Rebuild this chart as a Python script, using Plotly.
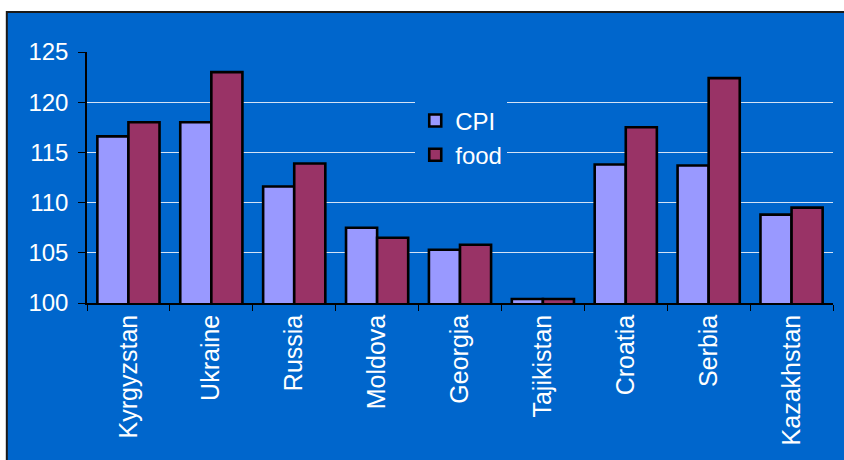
import plotly.graph_objects as go

countries = ["Kyrgyzstan", "Ukraine", "Russia", "Moldova", "Georgia",
             "Tajikistan", "Croatia", "Serbia", "Kazakhstan"]
cpi = [116.6, 118.0, 111.6, 107.5, 105.3, 100.4, 113.8, 113.7, 108.8]
food = [118.0, 123.0, 113.9, 106.5, 105.8, 100.4, 117.5, 122.4, 109.5]
y_ticks = [100, 105, 110, 115, 120, 125]

PANEL = "#0066CC"
FONT = "Liberation Sans, Arial, sans-serif"

fig = go.Figure()
fig.add_trace(go.Bar(name="CPI", x=countries, y=cpi, base=0,
                     marker=dict(color="#9999FF", line=dict(color="black", width=2.6))))
fig.add_trace(go.Bar(name="food", x=countries, y=food, base=0,
                     marker=dict(color="#993366", line=dict(color="black", width=2.6))))

# blue chart panel behind everything, with a dark frame on the left and top
fig.add_shape(type="rect", xref="paper", yref="paper",
              x0=-0.1075, x1=1.03, y0=-0.7, y1=1.159,
              fillcolor=PANEL, line=dict(color="#1a1a1a", width=2), layer="below")

fig.update_layout(
    width=844, height=460,
    margin=dict(l=87, r=11, t=52, b=157),
    paper_bgcolor="white",
    plot_bgcolor=PANEL,
    barmode="group",
    bargap=0.25,
    bargroupgap=0,
    font=dict(family=FONT, color="white", size=24),
    legend=dict(x=0.44, y=0.815, xanchor="left", yanchor="top",
                bgcolor=PANEL, font=dict(size=24, color="white"),
                itemwidth=30, tracegroupgap=0),
    showlegend=True,
)
fig.update_xaxes(showline=True, linecolor="black", linewidth=1.5,
                 ticks="outside", tickson="boundaries", ticklen=6, tickcolor="black",
                 tickangle=-90, tickfont=dict(size=25, color="white", family=FONT),
                 showgrid=False, mirror=False)
fig.update_yaxes(range=[100, 125], tickvals=y_ticks, showline=True, linecolor="black",
                 linewidth=1.5, ticks="outside", ticklen=7, tickcolor="black",
                 tickfont=dict(size=24, color="white", family=FONT),
                 showgrid=True, gridcolor="rgba(235,240,250,0.9)", gridwidth=1.2,
                 zeroline=False, ticklabelstandoff=5)

fig.write_html("out.html")
